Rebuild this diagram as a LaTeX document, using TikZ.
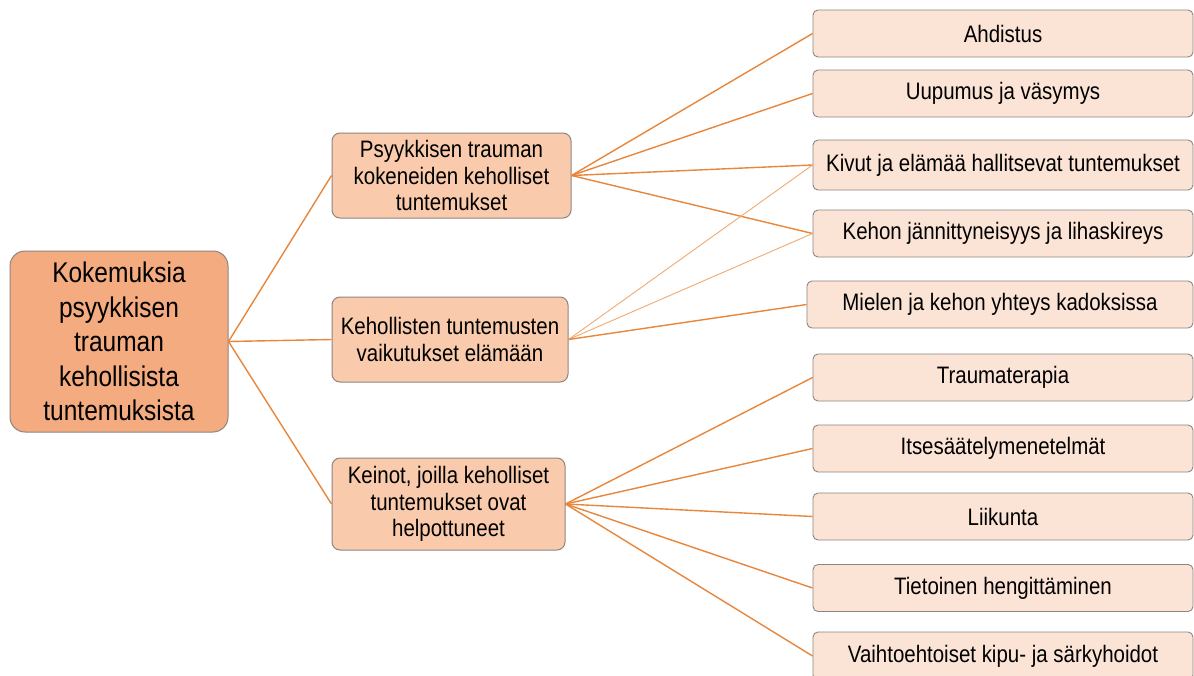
\documentclass[tikz,border=0pt]{standalone}
\usepackage{fontspec}
\setmainfont{Liberation Sans}[FakeStretch=0.86]
\definecolor{rootfill}{HTML}{F4AB7F}
\definecolor{midfill}{HTML}{F9CBAC}
\definecolor{leaffill}{HTML}{FBE4D6}
\definecolor{boxline}{HTML}{8E8580}
\definecolor{conn}{HTML}{E8863C}
\definecolor{connlight}{HTML}{EFAA72}
\begin{document}
\begin{tikzpicture}[x=1pt,y=-1pt,
  rootbox/.style={draw=boxline,line width=1pt,fill=rootfill,rounded corners=15pt,inner sep=0pt,align=center,
    font=\fontsize{28.5}{34.5}\selectfont},
  midbox/.style={draw=boxline,line width=1pt,fill=midfill,rounded corners=8pt,inner sep=0pt,align=center,
    font=\fontsize{23.8}{26.5}\selectfont},
  leafbox/.style={draw=boxline,line width=0.9pt,fill=leaffill,rounded corners=5pt,inner sep=0pt,align=center,
    minimum width=380pt,font=\fontsize{23.8}{26}\selectfont},
  link/.style={draw=conn,line width=1.4pt},
  thinlink/.style={draw=connlight,line width=0.9pt}
]
\useasboundingbox (0,0) rectangle (1194,675);
\fill[white] (0,0) rectangle (1194,675);

\node[rootbox,minimum width=218pt,minimum height=181pt] (root) at (119,341.5)
  {Kokemuksia\\psyykkisen\\trauman\\kehollisista\\tuntemuksista};

\node[midbox,minimum width=239pt,minimum height=85pt] (m1) at (451.5,175.5)
  {Psyykkisen trauman\\kokeneiden keholliset\\tuntemukset};
\node[midbox,minimum width=236pt,minimum height=85pt] (m2) at (450,339.5)
  {Kehollisten tuntemusten\\vaikutukset elämään};
\node[midbox,minimum width=233pt,minimum height=92pt] (m3) at (448.5,504)
  {Keinot, joilla keholliset\\tuntemukset ovat\\helpottuneet};

\node[leafbox,minimum height=47pt] (r1) at (1003,33.5) {Ahdistus};
\node[leafbox,minimum height=47pt] (r2) at (1003,93.5) {Uupumus ja väsymys};
\node[leafbox,minimum height=50pt] (r3) at (1003,165) {Kivut ja elämää hallitsevat tuntemukset};
\node[leafbox,minimum height=47pt] (r4) at (1003,233.5) {Kehon jännittyneisyys ja lihaskireys};
\node[leafbox,minimum height=47pt,minimum width=386pt] (r5) at (1000,304.5) {Mielen ja kehon yhteys kadoksissa};
\node[leafbox,minimum height=47pt] (r6) at (1003,377.5) {Traumaterapia};
\node[leafbox,minimum height=47pt] (r7) at (1003,448.5) {Itsesäätelymenetelmät};
\node[leafbox,minimum height=47pt] (r8) at (1003,516.5) {Liikunta};
\node[leafbox,minimum height=47pt] (r9) at (1003,588) {Tietoinen hengittäminen};
\node[leafbox,minimum height=48pt] (r10) at (1003,656) {Vaihtoehtoiset kipu- ja särkyhoidot};

\draw[link] (root.east) -- (m1.west);
\draw[link] (root.east) -- (m2.west);
\draw[link] (root.east) -- (m3.west);

\draw[link] (m1.east) -- (r1.west);
\draw[link] (m1.east) -- (r2.west);
\draw[link] (m1.east) -- (r3.west);
\draw[link] (m1.east) -- (r4.west);

\draw[thinlink] (m2.east) -- (r3.west);
\draw[thinlink] (m2.east) -- (r4.west);
\draw[link] (m2.east) -- (r5.west);

\draw[link] (m3.east) -- (r6.west);
\draw[link] (m3.east) -- (r7.west);
\draw[link] (m3.east) -- (r8.west);
\draw[link] (m3.east) -- (r9.west);
\draw[link] (m3.east) -- (r10.west);
\end{tikzpicture}
\end{document}
